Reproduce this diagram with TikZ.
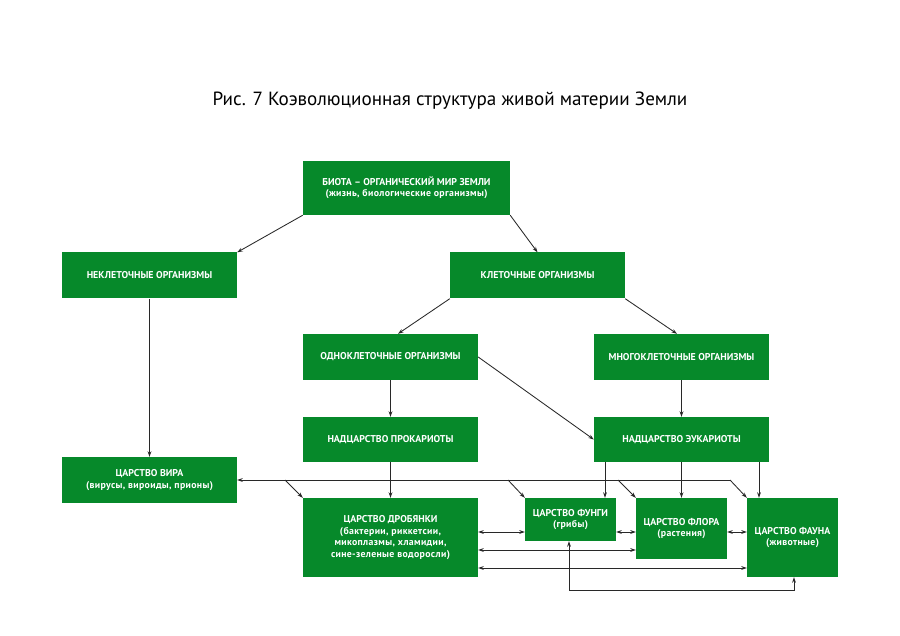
\documentclass[tikz,border=0pt]{standalone}
\usepackage{fontspec}
\setmainfont{PT Sans}
\usetikzlibrary{arrows.meta}
\definecolor{boxgreen}{RGB}{6,137,42}
\definecolor{linegray}{RGB}{40,40,40}
\newcommand{\lcline}[1]{{\fontsize{9.8}{11.5}\selectfont\addfontfeatures{LetterSpace=3.5}#1}}
\tikzset{
  box/.style={fill=boxgreen, text=white, align=center, inner sep=0pt,
    font=\fontsize{9.9}{11.5}\selectfont\bfseries},
  arr/.style={draw=linegray, line width=0.85pt, -{Stealth[length=5.5pt,width=3.8pt]}},
  darr/.style={draw=linegray, line width=0.85pt, {Stealth[length=5.5pt,width=3.8pt]}-{Stealth[length=5.5pt,width=3.8pt]}},
}
\begin{document}
\begin{tikzpicture}[x=1pt,y=-1pt]
\useasboundingbox[fill=white] (0,0) rectangle (900,636);
\node[font=\fontsize{19.1}{22}\selectfont] (title) at (450,101) {Рис. 7 Коэволюционная структура живой материи Земли};

\node[box, minimum width=207, minimum height=54] (biota) at (406.5,188) {БИОТА – ОРГАНИЧЕСКИЙ МИР ЗЕМЛИ\\\lcline{(жизнь, биологические организмы)}};
\node[box, minimum width=175, minimum height=46] (nekl) at (149.5,275.5) {НЕКЛЕТОЧНЫЕ ОРГАНИЗМЫ};
\node[box, minimum width=175, minimum height=46] (kl) at (537.5,275.5) {КЛЕТОЧНЫЕ ОРГАНИЗМЫ};
\node[box, minimum width=175, minimum height=46] (odno) at (390.5,357) {ОДНОКЛЕТОЧНЫЕ ОРГАНИЗМЫ};
\node[box, minimum width=175, minimum height=46] (mnogo) at (681.5,357) {МНОГОКЛЕТОЧНЫЕ ОРГАНИЗМЫ};
\node[box, minimum width=175, minimum height=45] (prok) at (390.5,439.5) {НАДЦАРСТВО ПРОКАРИОТЫ};
\node[box, minimum width=175, minimum height=45] (euk) at (681.5,439.5) {НАДЦАРСТВО ЭУКАРИОТЫ};
\node[box, minimum width=175, minimum height=46] (vira) at (149.5,480) {ЦАРСТВО ВИРА\\\lcline{(вирусы, вироиды, прионы)}};
\node[box, minimum width=175, minimum height=79] (drob) at (390.5,537.5) {ЦАРСТВО ДРОБЯНКИ\\\lcline{(бактерии, риккетсии,}\\\lcline{микоплазмы, хламидии,}\\\lcline{сине-зеленые водоросли)}};
\node[box, minimum width=91, minimum height=43] (fungi) at (570.5,519.5) {ЦАРСТВО ФУНГИ\\\lcline{(грибы)}};
\node[box, minimum width=91, minimum height=61] (flora) at (681.5,528.5) {ЦАРСТВО ФЛОРА\\\lcline{(растения)}};
\node[box, minimum width=91, minimum height=79] (fauna) at (792.5,537.5) {ЦАРСТВО ФАУНА\\\lcline{(животные)}};

% tree connectors
\draw[arr] (biota.south west) -- (nekl.north east);
\draw[arr] (biota.south east) -- (kl.north);
\draw[arr] (kl.south west) -- ([xshift=7.5]odno.north);
\draw[arr] (kl.south east) -- ([xshift=-4.5]mnogo.north);
\draw[arr] (nekl.south) -- (vira.north);
\draw[arr] (odno.south) -- (prok.north);
\draw[arr] (odno.east) -- (euk.west);
\draw[arr] (mnogo.south) -- (euk.north);
\draw[arr] (prok.south) -- (drob.north);
\draw[arr] ([xshift=-76.5]euk.south) -- ([xshift=-76.5]euk.south |- fungi.north);
\draw[arr] (euk.south) -- (flora.north);
\draw[arr] ([xshift=77.5]euk.south) -- ([xshift=77.5]euk.south |- fauna.north);

% bus from the right
\coordinate (busR) at (730,480);
\coordinate (bD) at (285,480);
\coordinate (bF) at (508,480);
\coordinate (bL) at (618,480);
\draw[arr] (busR) -- (vira.east);
\draw[arr] (busR) -- (fauna.north west);
\draw[arr] (bD) -- (drob.north west);
\draw[arr] (bF) -- (fungi.north west);
\draw[arr] (bL) -- (flora.north west);

% horizontal links
\coordinate (r1) at (0,532);
\coordinate (r2) at (0,550);
\coordinate (r3) at (0,568);
\draw[darr] (drob.east |- r1) -- (fungi.west |- r1);
\draw[darr] (fungi.east |- r1) -- (flora.west |- r1);
\draw[darr] (flora.east |- r1) -- (fauna.west |- r1);
\draw[darr] (drob.east |- r2) -- (flora.west |- r2);
\draw[darr] (drob.east |- r3) -- (fauna.west |- r3);

% bottom loop
\coordinate (l1) at (569,590);
\coordinate (l2) at (794,590);
\draw[darr] (fungi.south -| l1) -- (l1) -- (l2) -- (fauna.south -| l2);
\end{tikzpicture}
\end{document}
